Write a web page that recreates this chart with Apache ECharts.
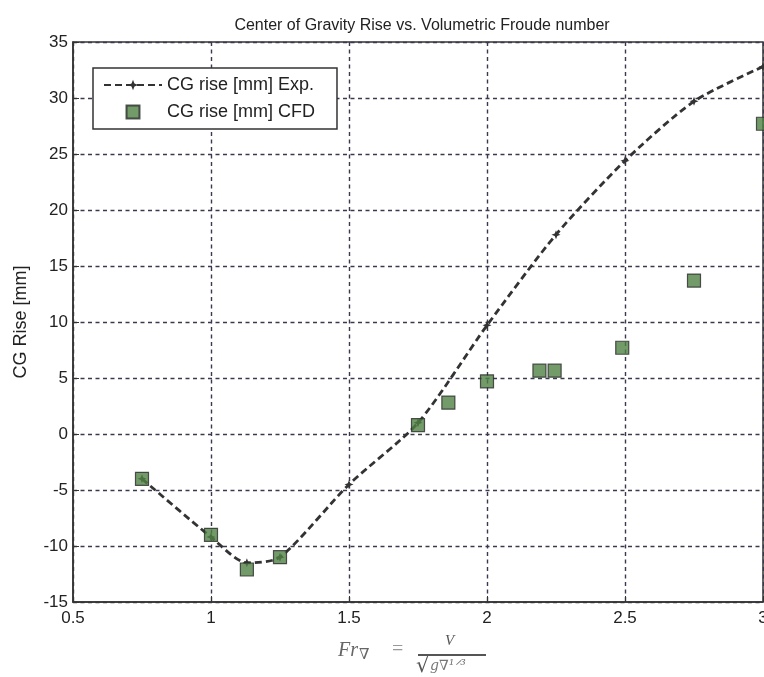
<!DOCTYPE html>
<html>
<head>
<meta charset="utf-8">
<script src="https://cdn.jsdelivr.net/npm/echarts@6/dist/echarts.min.js"></script>
<style>html,body{margin:0;padding:0;background:#fff}#c{width:764px;height:677px}</style>
</head>
<body>
<div id="c"></div>
<script>
const expX = [0.75, 1.0, 1.13, 1.25, 1.5, 1.75, 2.0, 2.25, 2.5, 2.75, 3.0];
const expY = [-4.0, -9.2, -11.5, -11.0, -4.5, 1.0, 9.7, 17.8, 24.4, 29.7, 32.8];
const cfdX = [0.75, 1.0, 1.13, 1.25, 1.75, 1.86, 2.0, 2.19, 2.245, 2.49, 2.75, 3.0];
const cfdY = [-4.0, -9.0, -12.1, -11.0, 0.8, 2.8, 4.7, 5.65, 5.65, 7.7, 13.7, 27.7];
const xTicks = [0.5, 1, 1.5, 2, 2.5, 3];
const yTicks = [-15, -10, -5, 0, 5, 10, 15, 20, 25, 30, 35];
const seriesNames = ['CG rise [mm] Exp.', 'CG rise [mm] CFD'];
const titleText = 'Center of Gravity Rise vs. Volumetric Froude number';
const yName = 'CG Rise [mm]';

const chart = echarts.init(document.getElementById('c'), null, {renderer: 'canvas'});
const gridCol = '#3a3a4e';
const font = 'Liberation Sans, Arial, sans-serif';
const splitStyle = {show: true, lineStyle: {color: gridCol, type: [4, 3.5], width: 1.4}};
chart.setOption({
  animation: false,
  backgroundColor: '#fff',
  title: {
    text: titleText, left: 417, top: 13, textAlign: 'center',
    textStyle: {fontFamily: font, fontSize: 16, fontWeight: 'normal', color: '#222'}
  },
  grid: {left: 73, top: 42, right: 1, bottom: 75, show: true, borderColor: '#333', borderWidth: 1.5,
    outerBoundsMode: 'none', containLabel: false},
  legend: {
    left: 93, top: 68, orient: 'vertical',
    borderColor: '#333', borderWidth: 1.5, backgroundColor: '#fff',
    padding: [8, 22, 8, 10], itemGap: 9, itemWidth: 58, itemHeight: 13,
    textStyle: {fontFamily: font, fontSize: 18, color: '#222'},
    data: [
      {name: seriesNames[0]},
      {name: seriesNames[1], icon: 'path://M0,0 L10,0 L10,10 L0,10 Z'}
    ]
  },
  xAxis: {
    type: 'value', min: 0.5, max: 3, interval: 0.5,
    axisLine: {show: true, onZero: false, lineStyle: {color: '#333', width: 1.5}},
    axisTick: {show: true, inside: true, length: 6, lineStyle: {color: '#333'}},
    axisLabel: {fontFamily: font, fontSize: 17, color: '#222', margin: 8,
      formatter: v => xTicks.includes(+v) ? String(v) : ''},
    splitLine: splitStyle
  },
  yAxis: {
    type: 'value', min: -15, max: 35, interval: 5,
    name: yName, nameLocation: 'middle', nameGap: 43,
    nameTextStyle: {fontFamily: font, fontSize: 18, color: '#222'},
    axisLine: {show: true, onZero: false, lineStyle: {color: '#333', width: 1.5}},
    axisTick: {show: true, inside: true, length: 6, lineStyle: {color: '#333'}},
    axisLabel: {fontFamily: font, fontSize: 17, color: '#222', margin: 5,
      formatter: v => yTicks.includes(+v) ? String(v) : ''},
    splitLine: splitStyle
  },
  series: [
    {
      name: seriesNames[0], type: 'line',
      data: expX.map((x, i) => [x, expY[i]]),
      smooth: 0.25,
      symbol: 'path://M0,-5 L1.4,-1.4 L5,0 L1.4,1.4 L0,5 L-1.4,1.4 L-5,0 L-1.4,-1.4 Z', symbolSize: 9,
      itemStyle: {color: '#333'},
      lineStyle: {color: '#333', width: 2.8, type: [7, 4]},
      z: 3
    },
    {
      name: seriesNames[1], type: 'scatter',
      data: cfdX.map((x, i) => [x, cfdY[i]]),
      symbol: 'rect', symbolSize: 13,
      itemStyle: {color: '#4f8244', borderColor: '#2a2a2a', borderWidth: 1.2},
      z: 4
    }
  ],
  graphic: [
    {type: 'text', left: 338, top: 641, style: {text: 'Fr', font: 'italic 20px "Liberation Serif", serif', fill: '#666'}},
    {type: 'text', left: 359, top: 648, style: {text: '∇', font: '15px "DejaVu Serif", serif', fill: '#666'}},
    {type: 'text', left: 392, top: 640, style: {text: '=', font: '20px "Liberation Serif", serif', fill: '#999'}},
    {type: 'text', left: 445, top: 634, style: {text: 'V', font: 'italic 15px "Liberation Serif", serif', fill: '#555'}},
    {type: 'line', shape: {x1: 418, y1: 655, x2: 486, y2: 655}, style: {stroke: '#555', lineWidth: 2.2}},
    {type: 'text', left: 416, top: 656, style: {text: '√', font: '21px "DejaVu Serif", serif', fill: '#555'}},
    {type: 'text', left: 430, top: 659, style: {text: 'g∇¹ᐟ³', font: 'italic 14px "DejaVu Serif", serif', fill: '#777'}}
  ]
});
</script>
</body>
</html>
